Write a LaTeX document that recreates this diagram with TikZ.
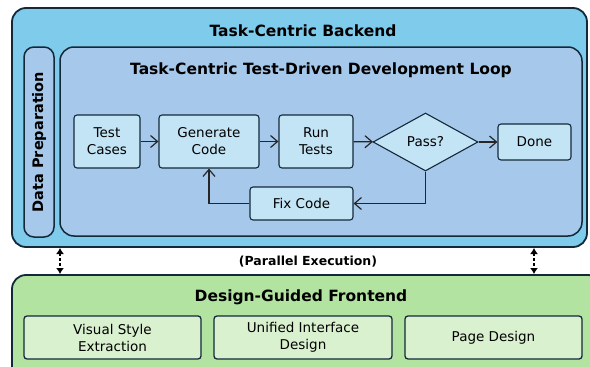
\documentclass[tikz,border=0pt]{standalone}
\usepackage{fontspec}
\setmainfont{DejaVu Sans}
\usetikzlibrary{shapes.geometric,arrows.meta}

\definecolor{backendblue}{HTML}{7ECBEB}
\definecolor{loopblue}{HTML}{A6C8EA}
\definecolor{stepblue}{HTML}{C3E4F5}
\definecolor{frontgreen}{HTML}{B2E3A0}
\definecolor{subgreen}{HTML}{DAF1D0}
\definecolor{edgedark}{HTML}{13293A}

\tikzset{
  bigbox/.style={draw=edgedark,line width=1.8pt,rounded corners=14pt,inner sep=0pt},
  stepbox/.style={draw=edgedark,fill=stepblue,line width=1.1pt,rounded corners=3pt,
    align=center,inner sep=0pt,font=\fontsize{13.5}{17}\selectfont},
  subbox/.style={draw=edgedark,fill=subgreen,line width=1.3pt,rounded corners=3pt,
    align=center,inner sep=0pt,minimum height=43pt,font=\fontsize{13.5}{17}\selectfont},
  boxtitle/.style={font=\bfseries\fontsize{15.5}{18}\selectfont},
  flow/.style={draw=black!85,line width=1.2pt},
  sync/.style={draw=black,line width=1.4pt,densely dashed,{Latex[length=6pt,width=8pt]}-{Latex[length=6pt,width=8pt]}},
}

\begin{document}
\begin{tikzpicture}[x=1pt,y=-1pt,->,>={Straight Barb[length=7pt,width=12pt]},semithick]

\useasboundingbox (0,0) rectangle (590,367);
\clip (0,0) rectangle (590,367);

% backend
\node[bigbox,fill=backendblue,minimum width=575pt,minimum height=239pt] (backend) at (299.5,127.5) {};
\node[boxtitle] (backendtitle) at (303,31) {Task-Centric Backend};

\node[bigbox,fill=loopblue,rounded corners=10pt,line width=1.5pt,rotate=90,
  minimum width=190pt,minimum height=30pt,font=\bfseries\fontsize{14.5}{16}\selectfont]
  (dataprep) at (39,142) {Data Preparation};

\node[bigbox,fill=loopblue,line width=1.5pt,minimum width=522pt,minimum height=189pt] (loop) at (321,141.5) {};
\node[boxtitle] (looptitle) at (321,70) {Task-Centric Test-Driven Development Loop};

% loop steps
\node[stepbox,minimum width=66pt,minimum height=53pt] (testcases) at (107,141.5) {Test\\Cases};
\node[stepbox,minimum width=100pt,minimum height=53pt] (generate) at (209,141.5) {Generate\\Code};
\node[stepbox,minimum width=74pt,minimum height=53pt] (runtests) at (316,141.5) {Run\\Tests};
\node[stepbox,diamond,rounded corners=0pt,minimum width=105pt,minimum height=58pt] (pass) at (425.5,142) {Pass?};
\node[stepbox,minimum width=73pt,minimum height=36pt] (done) at (534.5,142) {Done};
\node[stepbox,minimum width=103pt,minimum height=33pt] (fixcode) at (301.5,203.5) {Fix Code};

\draw[flow] (testcases) -- (generate);
\draw[flow] (generate) -- (runtests);
\draw[flow] (runtests) -- (pass);
\draw[flow] (pass) -- (done);
\draw[flow] (pass.south) |- (fixcode.east);
\draw[flow] (fixcode.west) -| (generate.south);

% parallel execution
\coordinate (lefttop) at (60,248);
\coordinate (leftbot) at (60,274);
\coordinate (righttop) at (534,248);
\coordinate (rightbot) at (534,274);

\node[font=\bfseries\fontsize{12.5}{14}\selectfont] (parallel) at (308,262) {(Parallel Execution)};

\draw[sync] (lefttop) -- (leftbot);
\draw[sync] (righttop) -- (rightbot);

% frontend
\node[bigbox,fill=frontgreen,minimum width=590pt,minimum height=130pt] (frontend) at (307,340) {};
\node[boxtitle] (fronttitle) at (301,297) {Design-Guided Frontend};

\node[subbox,minimum width=177pt] (visual) at (112.5,337.5) {Visual Style\\Extraction};
\node[subbox,minimum width=178pt] (unified) at (303,337.5) {Unified Interface\\Design};
\node[subbox,minimum width=177pt] (page) at (493.5,337.5) {Page Design};

\end{tikzpicture}
\end{document}
